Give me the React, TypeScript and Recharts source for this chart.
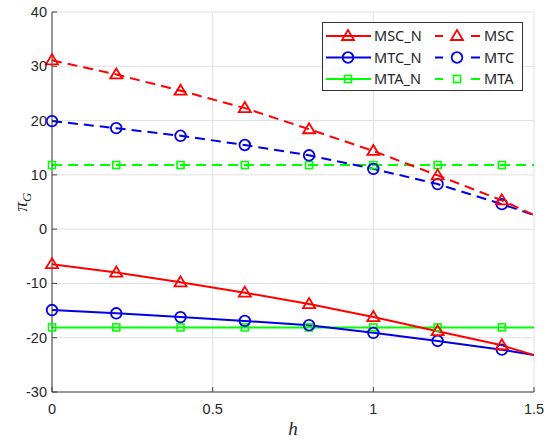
import React from 'react';
import { LineChart, Line, XAxis, YAxis } from 'recharts';

const hValues = [0, 0.2, 0.4, 0.6, 0.8, 1.0, 1.2, 1.4, 1.5];
const mscN = [-6.45, -8.0, -9.8, -11.7, -13.8, -16.2, -18.8, -21.4, -23.2];
const mtcN = [-14.9, -15.5, -16.2, -16.9, -17.7, -19.1, -20.6, -22.2, -23.2];
const mtaN = [-18.1, -18.1, -18.1, -18.1, -18.1, -18.1, -18.1, -18.1, -18.1];
const msc = [31.1, 28.5, 25.5, 22.3, 18.4, 14.4, 9.9, 5.3, 2.6];
const mtc = [19.9, 18.6, 17.2, 15.5, 13.6, 11.1, 8.3, 4.6, 2.6];
const mta = [11.8, 11.8, 11.8, 11.8, 11.8, 11.8, 11.8, 11.8, 11.8];
const xTicks = [0, 0.5, 1, 1.5];
const yTicks = [-30, -20, -10, 0, 10, 20, 30, 40];
const markerH = [0, 0.2, 0.4, 0.6, 0.8, 1.0, 1.2, 1.4];

const data = hValues.map((h, i) => ({
  h,
  mscN: mscN[i],
  mtcN: mtcN[i],
  mtaN: mtaN[i],
  msc: msc[i],
  mtc: mtc[i],
  mta: mta[i],
}));

const xMin = xTicks[0];
const xMax = xTicks[xTicks.length - 1];
const yMin = yTicks[0];
const yMax = yTicks[yTicks.length - 1];

const CHART_W = 550;
const CHART_H = 440;
const MARGIN = { top: 12, right: 16, bottom: 0, left: 0 };
const YAXIS_W = 52;
const XAXIS_H = 48;
const PLOT_W = CHART_W - MARGIN.left - MARGIN.right - YAXIS_W;
const PLOT_H = CHART_H - MARGIN.top - MARGIN.bottom - XAXIS_H;

const RED = '#ff0000';
const BLUE = '#0000e6';
const GREEN = '#00ff00';
const AXIS = '#404040';
const TICKTXT = '#262626';
const GRID = '#e0e0e0';

const hasMarker = (p: any) => p && markerH.some((m) => Math.abs(m - p.h) < 1e-6);

const triangle = (cx: number, cy: number, color: string, key?: any) => (
  <path
    key={key}
    d={`M${cx},${cy - 6} L${cx + 6},${cy + 4} L${cx - 6},${cy + 4} Z`}
    fill="none"
    stroke={color}
    strokeWidth={1.8}
  />
);
const circle = (cx: number, cy: number, color: string, key?: any) => (
  <circle key={key} cx={cx} cy={cy} r={5.3} fill="none" stroke={color} strokeWidth={1.8} />
);
const square = (cx: number, cy: number, color: string, key?: any) => (
  <rect key={key} x={cx - 3.5} y={cy - 3.5} width={7} height={7} fill="none" stroke={color} strokeWidth={1.6} />
);

const makeDot = (shape: typeof triangle, color: string) => (props: any) => {
  const { cx, cy, payload, index } = props;
  if (!hasMarker(payload) || cx == null || cy == null) return <g key={`d${index}`} />;
  return shape(cx, cy, color, `d${index}`);
};

// grid layer ticks (drawn in an underlying chart)
const GridXTick = (props: any) => {
  const { x, y } = props;
  return <line x1={x} y1={y} x2={x} y2={y - PLOT_H} stroke={GRID} strokeWidth={1} />;
};
const GridYTick = (props: any) => {
  const { x, y } = props;
  return <line x1={x} y1={y} x2={x + PLOT_W} y2={y} stroke={GRID} strokeWidth={1} />;
};

const BottomTick = (props: any) => {
  const { x, y, payload } = props;
  return (
    <g>
      <line x1={x} y1={y} x2={x} y2={y - 5} stroke={AXIS} strokeWidth={1} />
      <text x={x} y={y + 22} textAnchor="middle" fill={TICKTXT} fontSize={14.5} fontFamily="Liberation Sans, Arial, sans-serif">
        {String(payload.value)}
      </text>
    </g>
  );
};
const TopTick = (props: any) => {
  const { x, y } = props;
  return <line x1={x} y1={y} x2={x} y2={y + 5} stroke={AXIS} strokeWidth={1} />;
};
const LeftTick = (props: any) => {
  const { x, y, payload } = props;
  return (
    <g>
      <line x1={x} y1={y} x2={x + 5} y2={y} stroke={AXIS} strokeWidth={1} />
      <text x={x - 5} y={y + 5} textAnchor="end" fill={TICKTXT} fontSize={14.5} fontFamily="Liberation Sans, Arial, sans-serif">
        {String(payload.value)}
      </text>
    </g>
  );
};
const RightTick = (props: any) => {
  const { x, y } = props;
  return <line x1={x} y1={y} x2={x - 5} y2={y} stroke={AXIS} strokeWidth={1} />;
};

const legendRows = [
  { solid: 'MSC_N', dashed: 'MSC', color: RED, shape: triangle },
  { solid: 'MTC_N', dashed: 'MTC', color: BLUE, shape: circle },
  { solid: 'MTA_N', dashed: 'MTA', color: GREEN, shape: square },
];

const LegendBox = () => (
  <svg width={202} height={70} style={{ position: 'absolute', left: 322, top: 22 }}>
    <rect x={0.5} y={0.5} width={200} height={68} fill="#ffffff" stroke="#333333" strokeWidth={1} />
    {legendRows.map((r, i) => {
      const y = 14 + i * 21.5;
      return (
        <g key={r.solid}>
          <line x1={4} y1={y} x2={49} y2={y} stroke={r.color} strokeWidth={2} />
          {r.shape(26, y, r.color)}
          <text x={52} y={y + 5} fontSize={14.5} fill={TICKTXT} fontFamily="Noto Sans, Open Sans, sans-serif">
            {r.solid}
          </text>
          <line x1={113} y1={y} x2={121} y2={y} stroke={r.color} strokeWidth={2} />
          <line x1={149} y1={y} x2={158} y2={y} stroke={r.color} strokeWidth={2} />
          {r.shape(135, y, r.color)}
          <text x={162} y={y + 5} fontSize={14.5} fill={TICKTXT} fontFamily="Noto Sans, Open Sans, sans-serif">
            {r.dashed}
          </text>
        </g>
      );
    })}
  </svg>
);

export default function App() {
  return (
    <div style={{ position: 'absolute', left: 0, top: 0, width: CHART_W, height: CHART_H, background: '#fff' }}>
      {/* grid layer */}
      <div style={{ position: 'absolute', left: 0, top: 0 }}>
        <LineChart width={CHART_W} height={CHART_H} data={data} margin={MARGIN}>
          <XAxis
            xAxisId="gb"
            dataKey="h"
            type="number"
            domain={[xMin, xMax]}
            ticks={xTicks}
            height={XAXIS_H}
            tickSize={0}
            tickMargin={0}
            tickLine={false}
            axisLine={false}
            tick={<GridXTick />}
            interval={0}
          />
          <YAxis
            yAxisId="gl"
            type="number"
            domain={[yMin, yMax]}
            ticks={yTicks}
            width={YAXIS_W}
            tickSize={0}
            tickMargin={0}
            tickLine={false}
            axisLine={false}
            tick={<GridYTick />}
            interval={0}
          />
          <Line xAxisId="gb" yAxisId="gl" dataKey="mta" stroke="none" dot={false} activeDot={false} isAnimationActive={false} />
        </LineChart>
      </div>
      {/* data layer */}
      <div style={{ position: 'absolute', left: 0, top: 0 }}>
        <LineChart width={CHART_W} height={CHART_H} data={data} margin={MARGIN}>
          <XAxis
            xAxisId="b"
            dataKey="h"
            type="number"
            domain={[xMin, xMax]}
            ticks={xTicks}
            height={XAXIS_H}
            tickSize={0}
            tickMargin={0}
            tickLine={false}
            axisLine={{ stroke: AXIS, strokeWidth: 1 }}
            tick={<BottomTick />}
            interval={0}
            label={{ value: 'h', position: 'insideBottom', offset: 5, fontStyle: 'italic', fontFamily: 'Liberation Serif, Times New Roman, serif', fontSize: 19, fill: TICKTXT }}
          />
          <XAxis
            xAxisId="t"
            dataKey="h"
            type="number"
            orientation="top"
            domain={[xMin, xMax]}
            ticks={xTicks}
            height={0}
            tickSize={0}
            tickMargin={0}
            tickLine={false}
            axisLine={{ stroke: AXIS, strokeWidth: 1 }}
            tick={<TopTick />}
            interval={0}
          />
          <YAxis
            yAxisId="l"
            type="number"
            domain={[yMin, yMax]}
            ticks={yTicks}
            width={YAXIS_W}
            tickSize={0}
            tickMargin={0}
            tickLine={false}
            axisLine={{ stroke: AXIS, strokeWidth: 1 }}
            tick={<LeftTick />}
            interval={0}
          />
          <YAxis
            yAxisId="r"
            type="number"
            orientation="right"
            domain={[yMin, yMax]}
            ticks={yTicks}
            width={0}
            tickSize={0}
            tickMargin={0}
            tickLine={false}
            axisLine={{ stroke: AXIS, strokeWidth: 1 }}
            tick={<RightTick />}
            interval={0}
          />
          <Line xAxisId="b" yAxisId="l" dataKey="mtaN" stroke={GREEN} strokeWidth={2} dot={makeDot(square, GREEN)} isAnimationActive={false} />
          <Line xAxisId="b" yAxisId="l" dataKey="mta" stroke={GREEN} strokeWidth={2} strokeDasharray="10 6" dot={makeDot(square, GREEN)} isAnimationActive={false} />
          <Line xAxisId="b" yAxisId="l" dataKey="mtcN" stroke={BLUE} strokeWidth={2} dot={makeDot(circle, BLUE)} isAnimationActive={false} />
          <Line xAxisId="b" yAxisId="l" dataKey="mtc" stroke={BLUE} strokeWidth={2} strokeDasharray="10 6" dot={makeDot(circle, BLUE)} isAnimationActive={false} />
          <Line xAxisId="b" yAxisId="l" dataKey="mscN" stroke={RED} strokeWidth={2} dot={makeDot(triangle, RED)} isAnimationActive={false} />
          <Line xAxisId="b" yAxisId="l" dataKey="msc" stroke={RED} strokeWidth={2} strokeDasharray="10 6" dot={makeDot(triangle, RED)} isAnimationActive={false} />
        </LineChart>
      </div>
      <LegendBox />
      <svg width={40} height={60} style={{ position: 'absolute', left: 0, top: 172 }}>
        <text
          transform="translate(27,30) rotate(-90)"
          textAnchor="middle"
          fontFamily="Liberation Serif, Times New Roman, serif"
          fontStyle="italic"
          fontSize={19}
          fill={TICKTXT}
        >
          π<tspan fontSize={13} dy={4}>G</tspan>
        </text>
      </svg>
    </div>
  );
}
